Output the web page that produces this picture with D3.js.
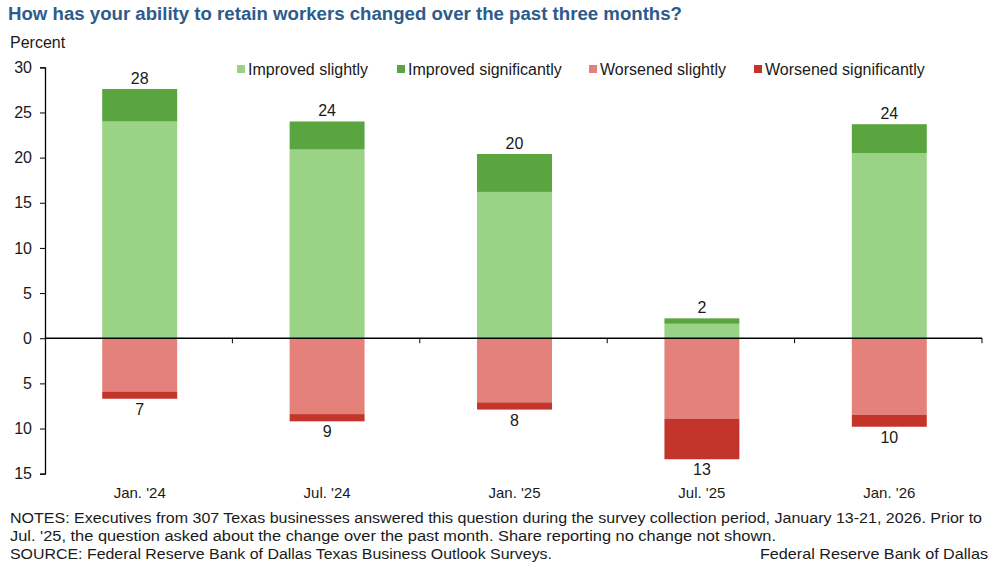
<!DOCTYPE html>
<html>
<head>
<meta charset="utf-8">
<script src="https://cdn.jsdelivr.net/npm/d3@7"></script>
<style>
    body { margin: 0; background: #fff; }
    text { font-family: "Liberation Sans", Arial, sans-serif; fill: #1a1a1a; }
</style>
</head>
<body>
<div id="wrapper"></div>
<script>
const categories = ["Jan. '24", "Jul. '24", "Jan. '25", "Jul. '25", "Jan. '26"];
const improvedSlightly = [24.0, 20.9, 16.2, 1.6, 20.5];
const improvedSignificantly = [3.6, 3.1, 4.2, 0.6, 3.2];
const worsenedSlightly = [5.9, 8.4, 7.1, 8.9, 8.5];
const worsenedSignificantly = [0.8, 0.8, 0.8, 4.5, 1.3];
const improvedLabels = ["28", "24", "20", "2", "24"];
const worsenedLabels = ["7", "9", "8", "13", "10"];
const yTicks = [30, 25, 20, 15, 10, 5, 0, -5, -10, -15];

const seriesNames = ["Improved slightly", "Improved significantly", "Worsened slightly", "Worsened significantly"];
const seriesColors = ["#9bd386", "#5aa540", "#e4817a", "#c3352b"];

function draw() {
    const dimensions = {
        width: 997,
        height: 565,
        margin: { top: 67.3, right: 15, bottom: 91.3, left: 45 },
    };
    dimensions.boundedWidth = dimensions.width - dimensions.margin.left - dimensions.margin.right;
    dimensions.boundedHeight = dimensions.height - dimensions.margin.top - dimensions.margin.bottom;

    const svg = d3.select("#wrapper")
        .append("svg")
        .attr("width", dimensions.width)
        .attr("height", dimensions.height);

    // title
    svg.append("text")
        .attr("x", 8)
        .attr("y", 20)
        .style("font-size", "18px")
        .style("font-weight", "bold")
        .style("fill", "#2d5b8c")
        .attr("textLength", 674)
        .attr("lengthAdjust", "spacingAndGlyphs")
        .text("How has your ability to retain workers changed over the past three months?");

    svg.append("text")
        .attr("x", 10)
        .attr("y", 48)
        .style("font-size", "16px")
        .text("Percent");

    const bounds = svg.append("g")
        .attr("transform", `translate(${dimensions.margin.left}, ${dimensions.margin.top})`);

    const xScale = d3.scaleBand()
        .domain(categories)
        .range([0, dimensions.boundedWidth])
        .paddingInner(0.6)
        .paddingOuter(0.3);

    const yScale = d3.scaleLinear()
        .domain([-15, 30])
        .range([dimensions.boundedHeight, 0]);

    // stacks
    const rows = categories.map((c, i) => ({
        cat: c,
        segs: [
            { y0: 0, y1: improvedSlightly[i], k: 0 },
            { y0: improvedSlightly[i], y1: improvedSlightly[i] + improvedSignificantly[i], k: 1 },
            { y0: 0, y1: -worsenedSlightly[i], k: 2 },
            { y0: -worsenedSlightly[i], y1: -worsenedSlightly[i] - worsenedSignificantly[i], k: 3 },
        ],
    }));

    const groups = bounds.append("g").selectAll("g")
        .data(rows)
        .enter().append("g");

    groups.selectAll("rect")
        .data(d => d.segs.map(s => ({ ...s, cat: d.cat })))
        .enter().append("rect")
        .attr("x", d => xScale(d.cat) + 1)
        .attr("width", xScale.bandwidth())
        .attr("y", d => yScale(Math.max(d.y0, d.y1)))
        .attr("height", d => Math.abs(yScale(d.y0) - yScale(d.y1)))
        .attr("fill", d => seriesColors[d.k]);

    // value labels
    bounds.append("g").selectAll("text")
        .data(categories)
        .enter().append("text")
        .attr("x", d => xScale(d) + 1 + xScale.bandwidth() / 2)
        .attr("y", (d, i) => yScale(improvedSlightly[i] + improvedSignificantly[i]) - 5)
        .attr("text-anchor", "middle")
        .style("font-size", "16px")
        .text((d, i) => improvedLabels[i]);

    bounds.append("g").selectAll("text")
        .data(categories)
        .enter().append("text")
        .attr("x", d => xScale(d) + 1 + xScale.bandwidth() / 2)
        .attr("y", (d, i) => yScale(-worsenedSlightly[i] - worsenedSignificantly[i]) + 16)
        .attr("text-anchor", "middle")
        .style("font-size", "16px")
        .text((d, i) => worsenedLabels[i]);

    // y axis
    const yAxis = bounds.append("g")
        .call(d3.axisLeft(yScale).tickValues(yTicks).tickSize(5).tickPadding(8).tickFormat(d => Math.abs(d)));
    yAxis.select(".domain").attr("stroke", "#000").attr("stroke-width", 1.3);
    yAxis.selectAll(".tick line").attr("stroke", "#000");
    yAxis.selectAll(".tick text")
        .style("font-size", "16px")
        .style("font-family", "'Liberation Sans', Arial, sans-serif")
        .attr("fill", "#1a1a1a");

    // zero line with category separators
    const zeroY = yScale(0);
    bounds.append("line")
        .attr("x1", 0)
        .attr("x2", dimensions.boundedWidth)
        .attr("y1", zeroY)
        .attr("y2", zeroY)
        .attr("stroke", "#000")
        .attr("stroke-width", 1.3);

    bounds.append("g").selectAll("line")
        .data(categories)
        .enter().append("line")
        .attr("x1", (d, i) => (i + 1) * xScale.step() + xScale.paddingOuter() * xScale.step() - xScale.paddingInner() * xScale.step() / 2)
        .attr("x2", (d, i) => (i + 1) * xScale.step() + xScale.paddingOuter() * xScale.step() - xScale.paddingInner() * xScale.step() / 2)
        .attr("y1", zeroY)
        .attr("y2", zeroY + 5)
        .attr("stroke", "#000");

    // x labels
    bounds.append("g").selectAll("text")
        .data(categories)
        .enter().append("text")
        .attr("x", d => xScale(d) + 1 + xScale.bandwidth() / 2)
        .attr("y", dimensions.boundedHeight + 24)
        .attr("text-anchor", "middle")
        .style("font-size", "15px")
        .text(d => d);

    // legend
    const legendX = [237, 397, 589, 754];
    const legend = svg.append("g").selectAll("g")
        .data(seriesNames)
        .enter().append("g")
        .attr("transform", (d, i) => `translate(${legendX[i]}, 65)`);
    legend.append("rect")
        .attr("width", 8)
        .attr("height", 8)
        .attr("fill", (d, i) => seriesColors[i]);
    legend.append("text")
        .attr("x", 11)
        .attr("y", 10)
        .style("font-size", "16px")
        .text(d => d);

    // notes
    const notes = [
        "NOTES: Executives from 307 Texas businesses answered this question during the survey collection period, January 13-21, 2026. Prior to",
        "Jul. '25, the question asked about the change over the past month. Share reporting no change not shown.",
        "SOURCE: Federal Reserve Bank of Dallas Texas Business Outlook Surveys.",
    ];
    const noteLen = [972, 766, 542];
    svg.append("g").selectAll("text")
        .data(notes)
        .enter().append("text")
        .attr("x", 10)
        .attr("y", (d, i) => 523 + i * 18)
        .style("font-size", "14px")
        .attr("textLength", (d, i) => noteLen[i])
        .attr("lengthAdjust", "spacingAndGlyphs")
        .text(d => d);

    svg.append("text")
        .attr("x", 988)
        .attr("y", 559)
        .attr("text-anchor", "end")
        .style("font-size", "15px")
        .attr("textLength", 228)
        .attr("lengthAdjust", "spacingAndGlyphs")
        .text("Federal Reserve Bank of Dallas");
}
draw();
</script>
</body>
</html>
